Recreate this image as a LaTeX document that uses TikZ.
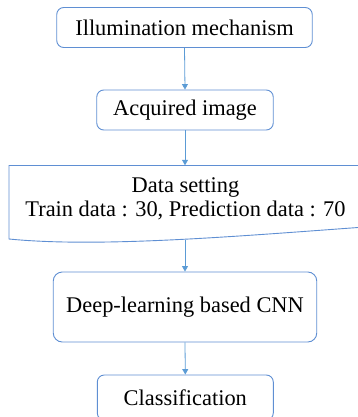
\documentclass[tikz,border=0pt]{standalone}
\usepackage{fontspec}
\setmainfont{Liberation Serif}
\usetikzlibrary{arrows.meta}
\definecolor{edge}{HTML}{5F8FD3}
\definecolor{arr}{HTML}{5B9BD5}
\begin{document}
\begin{tikzpicture}[x=1pt,y=-1pt,
  box/.style={draw=edge,line width=0.9pt,rounded corners=7pt,inner sep=0pt,font=\fontsize{22.4}{26}\selectfont},
  conn/.style={draw=arr,line width=0.8pt,-{Triangle[length=5.5pt,width=6pt]}},
  txt/.style={inner sep=0pt,align=center,font=\fontsize{22.4}{26}\selectfont}]
\useasboundingbox (0,0) rectangle (358,417);
\clip (0,0) rectangle (358,417);
\node[box,minimum width=255.5pt,minimum height=40pt] (b1) at (184.5,27.5) {Illumination mechanism};
\node[box,minimum width=176.5pt,minimum height=40pt] (b2) at (185,110) {Acquired image};
% data setting document shape
\draw[edge,line width=0.9pt] (365,165.5) -- (9,165.5) -- (9,239)
  .. controls (100,248) and (240,236) .. (365,227);
\node[txt,minimum width=300pt,minimum height=74pt] (b3) at (185,202.5) {};
\node[txt] (t3) at (185.5,198.5) {Data setting\\[-2pt]Train data : 30, Prediction data : 70};
\node[box,rounded corners=9pt,minimum width=263.5pt,minimum height=70pt] (b4) at (185,307) {Deep-learning based CNN};
\node[box,minimum width=176pt,minimum height=45pt] (b5) at (185.3,397.5) {Classification};
\draw[conn] (b1.south) -- (b2.north);
\draw[conn] (b2.south) -- (b3.north);
\draw[conn] (b3.south) -- (b4.north);
\draw[conn] (b4.south) -- (b5.north);
\end{tikzpicture}
\end{document}
